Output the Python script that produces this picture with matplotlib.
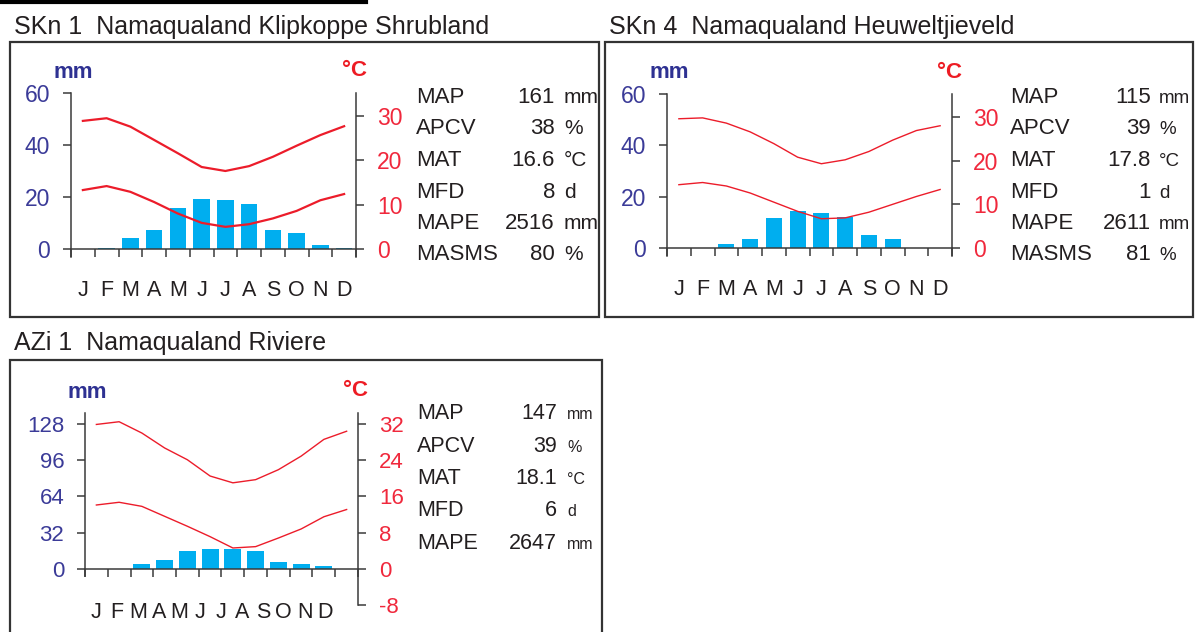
import numpy as np
import matplotlib.pyplot as plt
from matplotlib.patches import Rectangle
from matplotlib.lines import Line2D

W, H = 1196, 632
NARROW = ["Liberation Sans Narrow", "Liberation Sans", "DejaVu Sans"]
REGULAR = ["Liberation Sans", "DejaVu Sans"]

BAR_BLUE = "#00AEEF"
CURVE_RED = "#EC1C2A"
MM_BLUE = "#3B3B98"
DEG_RED = "#F0283C"
SPINE = "#3A3A3A"
INK = "#231F20"

months = list("JFMAMJJASOND")

# SKn 1 Namaqualand Klipkoppe Shrubland
skn1_rain = [0.0, 0.5, 4.1, 7.2, 15.8, 19.2, 18.7, 17.3, 7.2, 6.2, 1.5, 0.5]
skn1_tmax = [28.9, 29.5, 27.6, 24.6, 21.6, 18.5, 17.6, 18.7, 20.8, 23.3, 25.7, 27.7]
skn1_tmin = [13.3, 14.2, 12.9, 10.6, 8.0, 5.9, 5.0, 5.6, 6.9, 8.6, 11.0, 12.4]
skn1_values = ["161", "38", "16.6", "8", "2516", "80"]

# SKn 4 Namaqualand Heuweltjieveld
skn4_rain = [0.0, 0.0, 1.7, 3.4, 11.5, 14.6, 13.8, 12.1, 5.0, 3.4, 0.0, 0.0]
skn4_tmax = [29.6, 29.8, 28.6, 26.6, 23.9, 20.8, 19.3, 20.2, 22.1, 24.7, 26.9, 28.0]
skn4_tmin = [14.5, 15.0, 14.2, 12.6, 10.5, 8.4, 6.7, 6.9, 8.2, 10.0, 11.8, 13.4]
skn4_values = ["115", "39", "17.8", "1", "2611", "81"]

# AZi 1 Namaqualand Riviere
azi1_rain = [0.0, 0.0, 4.4, 8.2, 15.3, 17.4, 17.7, 15.3, 6.2, 4.4, 2.6, 0.0]
azi1_tmax = [31.9, 32.5, 30.0, 26.7, 24.1, 20.5, 19.0, 19.7, 21.9, 24.9, 28.6, 30.4]
azi1_tmin = [14.1, 14.7, 13.8, 11.6, 9.4, 7.1, 4.6, 4.9, 6.8, 8.8, 11.5, 13.1]
azi1_values = ["147", "39", "18.1", "6", "2647"]

stat_names = ["MAP", "APCV", "MAT", "MFD", "MAPE", "MASMS"]
stat_units = ["mm", "%", "°C", "d", "mm", "%"]


def fx(x):
    return x / W


def fy(y):
    return 1 - y / H


def climate_panel(fig, rect, rain, tmax, tmin, mm_lim, t_lim, mm_ticks, t_ticks,
                  mm_bottom, tick_size, lw, bar_w, label_step, label_pad):
    """Diagramma climatico: barre di pioggia (mm) e curve di temperatura (°C)."""
    l, t, r, b = rect
    ax = fig.add_axes([fx(l), fy(b), (r - l) / W, (b - t) / H])
    ax.set_xlim(0, 12)
    ax.set_ylim(*mm_lim)
    x = np.arange(12) + 0.5
    ax.bar(x, rain, width=bar_w, color=BAR_BLUE, zorder=2)

    for side in ["top", "right"]:
        ax.spines[side].set_visible(False)
    ax.spines["bottom"].set_position(("data", 0))
    ax.spines["left"].set_bounds(mm_bottom, mm_lim[1])
    for s in ["left", "bottom"]:
        ax.spines[s].set_color(SPINE)
        ax.spines[s].set_linewidth(1.1)

    ax.set_xticks(range(13))
    ax.set_xticklabels([])
    ax.set_xticks(np.arange(12) * label_step + 0.5, minor=True)
    ax.set_xticklabels(months, minor=True, family=NARROW, fontsize=15.5, color=INK)
    ax.tick_params(axis="x", which="major", direction="out", length=6, width=1.1, color=SPINE)
    ax.tick_params(axis="x", which="minor", length=0, pad=label_pad)

    ax.set_yticks(mm_ticks)
    ax.set_yticklabels([str(v) for v in mm_ticks], family=NARROW, fontsize=tick_size, color=MM_BLUE)
    ax.tick_params(axis="y", direction="out", length=6, width=1.1, color=SPINE, pad=9)

    ax2 = ax.twinx()
    ax2.set_ylim(*t_lim)
    ax2.plot(x, tmax, color=CURVE_RED, lw=lw)
    ax2.plot(x, tmin, color=CURVE_RED, lw=lw)
    for side in ["top", "left", "bottom"]:
        ax2.spines[side].set_visible(False)
    ax2.spines["right"].set_color(SPINE)
    ax2.spines["right"].set_linewidth(1.1)
    ax2.set_yticks(t_ticks)
    ax2.set_yticklabels([str(v) for v in t_ticks], family=NARROW, fontsize=tick_size, color=DEG_RED)
    ax2.tick_params(axis="y", direction="out", length=6, width=1.1, color=SPINE, pad=9)

    fig.text(fx(l + 2), fy(t - 21), "mm", family=NARROW, fontsize=16, fontweight="bold",
             color="#2E3192", ha="center", va="center")
    fig.text(fx(r - 2), fy(t - 22), "°C", family=NARROW, fontsize=16, fontweight="bold",
             color="#ED1C24", ha="center", va="center")
    return ax, ax2


def stats_block(fig, x_name, x_val, x_unit, y0, dy, values, size, unit_size):
    for i, val in enumerate(values):
        y = fy(y0 + i * dy)
        fig.text(fx(x_name), y, stat_names[i], family=NARROW, fontsize=size,
                 color=INK, ha="left", va="baseline")
        fig.text(fx(x_val), y, val, family=NARROW, fontsize=size,
                 color=INK, ha="right", va="baseline")
        fig.text(fx(x_unit), y, stat_units[i], family=NARROW, fontsize=unit_size,
                 color=INK, ha="left", va="baseline")


fig = plt.figure(figsize=(W / 100, H / 100), dpi=100)

# riga nera in alto (resto di una didascalia tagliata)
fig.add_artist(Line2D([0, fx(366)], [fy(2), fy(2)], color="black", lw=3))

# cornici dei pannelli
for (l, t, r, b) in [(10, 42, 599, 317), (605, 42, 1193, 317), (10, 360, 602, 660)]:
    fig.add_artist(Rectangle((fx(l), fy(b)), (r - l) / W, (b - t) / H, transform=fig.transFigure,
                             fill=False, edgecolor="#333333", lw=1.6))

fig.text(fx(14), fy(27), "SKn 1  Namaqualand Klipkoppe Shrubland", family=REGULAR,
         fontsize=18, color=INK, ha="left", va="center")
fig.text(fx(609), fy(27), "SKn 4  Namaqualand Heuweltjieveld", family=REGULAR,
         fontsize=18, color=INK, ha="left", va="center")
fig.text(fx(14), fy(343), "AZi 1  Namaqualand Riviere", family=REGULAR,
         fontsize=18, color=INK, ha="left", va="center")

climate_panel(fig, (71, 93, 356, 257), skn1_rain, skn1_tmax, skn1_tmin,
              (-3.08, 60), (-1.8, 35.19), [0, 20, 40, 60], [0, 10, 20, 30],
              -3.08, 16.5, 1.6, 0.7, 1.0, 22)
climate_panel(fig, (667, 94, 952, 256), skn4_rain, skn4_tmax, skn4_tmin,
              (-3.12, 60), (-1.83, 35.27), [0, 20, 40, 60], [0, 10, 20, 30],
              -3.12, 16.5, 1.0, 0.68, 1.0, 22)
climate_panel(fig, (85, 413, 358, 605), azi1_rain, azi1_tmax, azi1_tmin,
              (-32, 137.7), (-8, 34.43), [0, 32, 64, 96, 128], [-8, 0, 8, 16, 24, 32],
              -6.8, 16, 1.0, 0.75, 0.915, 24)

stats_block(fig, 416, 555, 564, 103, 31.5, skn1_values, 16, 15)
stats_block(fig, 1010, 1151, 1159, 103, 31.5, skn4_values, 16, 13.5)
stats_block(fig, 417, 557, 567, 419, 32.5, azi1_values, 15.5, 11.5)

fig.savefig("out.png", dpi=100)
